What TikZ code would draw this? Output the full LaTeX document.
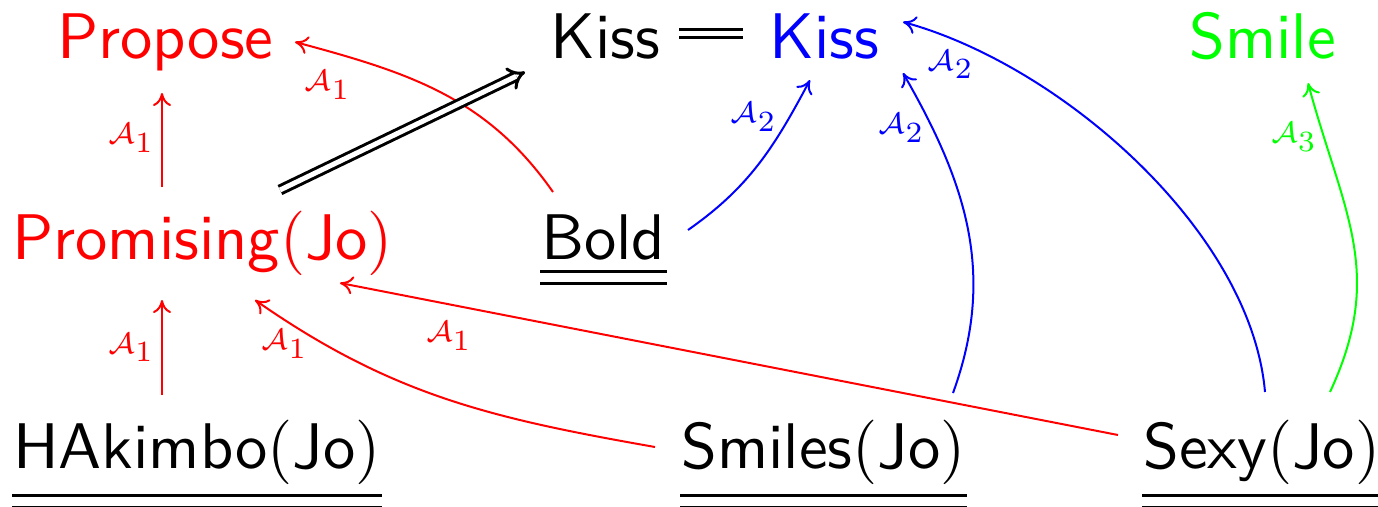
\documentclass[tikz,border=0pt]{standalone}
\usepackage{fix-cm}
\usetikzlibrary{arrows.meta,bending}
\definecolor{cred}{RGB}{255,0,0}
\definecolor{cblue}{RGB}{0,0,255}
\definecolor{cgreen}{RGB}{0,255,0}
\tikzset{
  obj/.style={inner sep=0pt, anchor=base west, scale=6.45, transform shape, font=\normalsize},
  arr/.style={line width=2pt, -{Computer Modern Rightarrow[length=13pt,width=18pt]}},
  lab/.style={inner sep=0.4pt, scale=4.2, transform shape, font=\fontsize{7}{8}\selectfont},
  uline/.style={line width=3pt},
  dbl/.style={double, line width=3pt, double distance=5pt},
}
\newcommand{\nm}[1]{\textsf{#1}}
\newcommand{\Al}[1]{$\mathcal{A}_{\textstyle #1}$}
\begin{document}
\begin{tikzpicture}[x=1pt,y=-1pt]
\useasboundingbox (0,0) rectangle (1378,506);
% nodes
\node[obj, text=cred] (propose) at (56,58) {$\nm{Propose}$};
\node[obj] (kissA) at (549,58) {$\nm{Kiss}$};
\node[obj, text=cblue] (kissB) at (768,58) {$\nm{Kiss}$};
\node[obj, text=cgreen] (smile) at (1188,58) {$\nm{Smile}$};
\node[obj, text=cred] (promising) at (11,259) {$\nm{Promising}(\nm{Jo})$};
\node[obj] (bold) at (540,259) {$\nm{Bold}$};
\node[obj] (hakimbo) at (12,468) {$\nm{HAkimbo}(\nm{Jo})$};
\node[obj] (smiles) at (680,468) {$\nm{Smiles}(\nm{Jo})$};
\node[obj] (sexy) at (1142,468) {$\nm{Sexy}(\nm{Jo})$};
% double underlines
\foreach \n in {bold,hakimbo,smiles,sexy}{
  \draw[uline] ([yshift=-10pt]\n.south west) -- ([yshift=-10pt]\n.south east);
  \draw[uline] ([yshift=-22.5pt]\n.south west) -- ([yshift=-22.5pt]\n.south east);
}
% red arrows
\draw[arr, cred] ([xshift=151pt,yshift=72pt]promising.base west) -- node[pos=.52, left=2pt, lab] {\Al{1}} ([xshift=106pt,yshift=-35pt]propose.base west);
\draw[arr, cred] ([xshift=150pt,yshift=73pt]hakimbo.base west) -- node[pos=.5, left=2pt, lab] {\Al{1}} ([xshift=151pt,yshift=-41pt]promising.base west);
\draw[arr, cred] ([xshift=13pt,yshift=67pt]bold.base west) to[out=125,in=345] node[pos=.9, below=14pt, lab] {\Al{1}} ([xshift=239pt,yshift=16pt]propose.base west);
\draw[arr, cred] ([xshift=-25pt,yshift=21pt]smiles.base west) to[out=170,in=325] node[pos=1, anchor=north west, yshift=-24pt, xshift=1pt, lab] {\Al{1}} ([xshift=244pt,yshift=-41pt]promising.base west);
\draw[arr, cred] ([xshift=-24pt,yshift=33pt]sexy.base west) -- node[pos=.86, below=11pt, lab] {\Al{1}} ([xshift=329pt,yshift=-24pt]promising.base west);
% double arrow and equality
\draw[dbl, -{Implies}] ([xshift=269pt,yshift=69pt]promising.base west) -- ([xshift=-24pt,yshift=-14pt]kissA.base west);
\draw[dbl] ([xshift=130pt,yshift=24.5pt]kissA.base west) -- ([xshift=-25pt,yshift=24.5pt]kissB.base west);
% blue arrows
\draw[arr, cblue] ([xshift=148pt,yshift=29pt]bold.base west) to[out=35,in=242] node[pos=.8, left=7pt, lab] {\Al{2}} ([xshift=42pt,yshift=-22pt]kissB.base west);
\draw[arr, cblue] ([xshift=273pt,yshift=75pt]smiles.base west) to[out=70,in=300] node[pos=.83, left=2pt, lab] {\Al{2}} ([xshift=135pt,yshift=-15pt]kissB.base west);
\draw[arr, cblue] ([xshift=123pt,yshift=76pt]sexy.base west) to[out=95,in=345,looseness=.8] node[pos=.9, below=6pt, lab] {\Al{2}} ([xshift=135pt,yshift=36pt]kissB.base west);
% green arrow
\draw[arr, cgreen] ([xshift=188pt,yshift=76pt]sexy.base west) to[out=65,in=285,looseness=1.1] node[pos=.85, left=1pt, lab] {\Al{3}} ([xshift=120pt,yshift=-25pt]smile.base west);
\end{tikzpicture}
\end{document}
